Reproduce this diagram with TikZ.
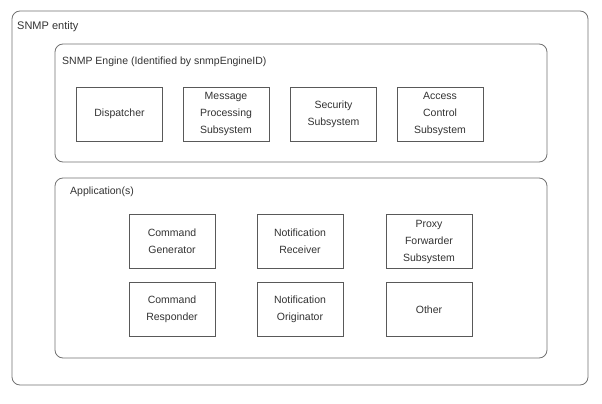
\documentclass[tikz,border=0pt]{standalone}
\usepackage{fontspec}
\setmainfont{Liberation Sans}

\begin{document}
\begin{tikzpicture}[x=1pt,y=-1pt,
	frame/.style={draw=black!55,line width=0.8pt,rounded corners=8pt,inner sep=0pt},
	box/.style={draw=black!65,line width=0.9pt,minimum width=86pt,minimum height=54pt,inner sep=0pt,align=center,text=black!80,font=\fontsize{10.5}{17}\selectfont},
	lbl/.style={anchor=west,inner sep=0pt,text=black!80,font=\fontsize{11}{12}\selectfont}]
	\fill[white] (0,0) rectangle (602,404);
	\useasboundingbox (0,0) rectangle (602,404);
	% containers
	\node[frame,minimum width=576pt,minimum height=374pt] (entity) at (300,198) {};
	\node[frame,minimum width=492pt,minimum height=118pt] (engine) at (301,103) {};
	\node[frame,minimum width=492pt,minimum height=180pt] (apps) at (301,268) {};
	\node[lbl] (entity_l) at (17,27) {SNMP entity};
	\node[lbl,font=\fontsize{10.5}{12}\selectfont] (engine_l) at (62,62) {SNMP Engine (Identified by snmpEngineID)};
	\node[lbl,font=\fontsize{10.5}{12}\selectfont] (apps_l) at (70,192) {Application(s)};
	% engine parts
	\node[box] (disp) at (119.5,114) {Dispatcher};
	\node[box] (mp) at (226,114) {Message\\Processing\\Subsystem};
	\node[box] (sec) at (333.5,114) {Security\\Subsystem};
	\node[box] (ac) at (440,114) {Access\\Control\\Subsystem};
	% applications
	\node[box] (cg) at (172,241.5) {Command\\Generator};
	\node[box] (nr) at (300,241.5) {Notification\\Receiver};
	\node[box] (pf) at (429,241.5) {Proxy\\Forwarder\\Subsystem};
	\node[box] (cr) at (172,309.5) {Command\\Responder};
	\node[box] (no) at (300,309.5) {Notification\\Originator};
	\node[box] (other) at (429,309.5) {Other};
\end{tikzpicture}
\end{document}
